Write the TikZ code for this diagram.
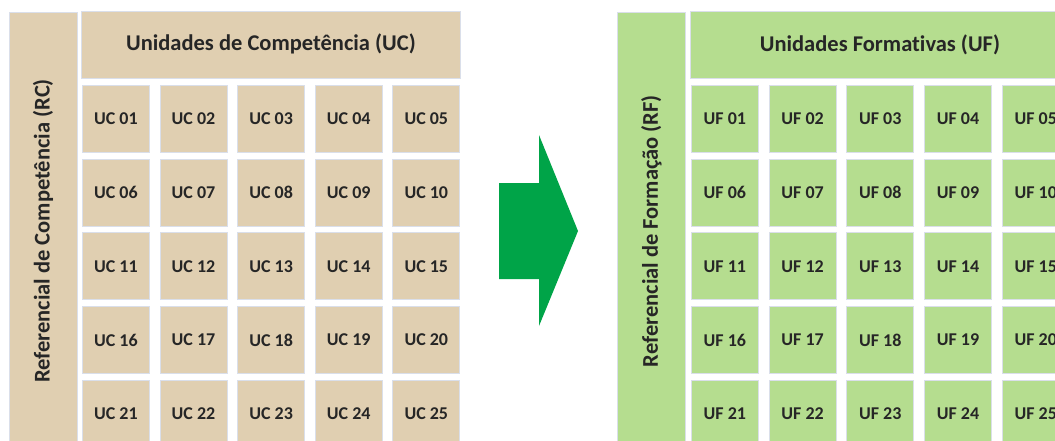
\documentclass[tikz,border=0pt]{standalone}
\usepackage{fontspec}
\setmainfont{Carlito}[Ligatures=NoCommon]
\definecolor{tanfill}{HTML}{E0CFB1}
\definecolor{leaffill}{HTML}{B5DD8F}
\definecolor{arrowgreen}{HTML}{00A448}
\definecolor{edgeline}{HTML}{DADFEA}
\definecolor{ink}{HTML}{262626}

\tikzset{
  box/.style={draw=edgeline, line width=0.8pt, inner sep=0pt, text=ink, anchor=north west},
  sidebar/.style={box, minimum width=68pt, minimum height=450pt},
  headbar/.style={box, minimum width=379pt, minimum height=67pt,
    font=\bfseries\fontsize{22.5}{26}\selectfont},
  cell/.style={box, minimum width=67pt, minimum height=67pt,
    font=\bfseries\fontsize{18}{21}\selectfont},
  sidelabel/.style={text=ink, rotate=90, font=\bfseries\fontsize{22.5}{26}\selectfont},
}

\begin{document}
\begin{tikzpicture}[x=1pt, y=-1pt]
\clip (0,0) rectangle (1055,440);
\useasboundingbox (0,0) rectangle (1055,440);

% Competence framework (left)
\node[sidebar, fill=tanfill] (rc) at (8.5,11.5) {};
\node[sidelabel] (rclabel) at (43,231) {Referencial de Competência (RC)};
\node[headbar, fill=tanfill] (uchead) at (81,10.5) {Unidades de Competência (UC)};
\foreach \r in {1,...,5} {
  \foreach \c in {1,...,5} {
    \pgfmathtruncatemacro\n{(\r-1)*5+\c}
    \node[cell, fill=tanfill] (uc\n) at ({82+(\c-1)*77.6},{85+(\r-1)*73.7})
      {UC \ifnum\n<10 0\fi\n};
  }
}

% Transition arrow
\fill[arrowgreen] (499,183) -- (539,183) -- (539,135) -- (578,231)
  -- (539,326) -- (539,279) -- (499,279) -- cycle;

% Training framework (right)
\node[sidebar, fill=leaffill] (rf) at (617,11.5) {};
\node[sidelabel] (rflabel) at (651.5,231) {Referencial de Formação (RF)};
\node[headbar, fill=leaffill] (ufhead) at (690,10.5) {Unidades Formativas (UF)};
\foreach \r in {1,...,5} {
  \foreach \c in {1,...,5} {
    \pgfmathtruncatemacro\n{(\r-1)*5+\c}
    \node[cell, fill=leaffill] (uf\n) at ({691+(\c-1)*77.7},{85+(\r-1)*73.7})
      {UF \ifnum\n<10 0\fi\n};
  }
}
\end{tikzpicture}
\end{document}
